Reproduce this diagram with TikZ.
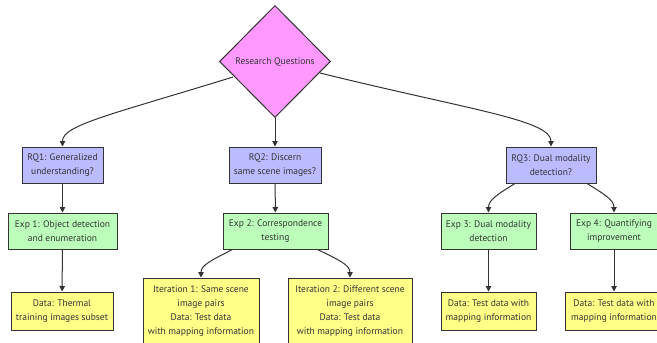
\documentclass[tikz,border=0pt]{standalone}
\usepackage{fontspec}
\setmainfont{PT Sans}
\usetikzlibrary{shapes.geometric,arrows.meta}
\definecolor{txt}{HTML}{333333}
\definecolor{rqfill}{HTML}{BBBBFF}
\definecolor{expfill}{HTML}{BBFFBB}
\definecolor{datafill}{HTML}{FFFF88}
\definecolor{qfill}{HTML}{FF99FF}
\tikzset{
  base/.style={draw=txt, line width=1pt, text=txt, inner sep=0pt, align=center,
    font=\fontsize{9.5}{14}\selectfont},
  rq/.style={base, rectangle, fill=rqfill, minimum height=36pt},
  exp/.style={base, rectangle, fill=expfill, minimum height=36pt},
  dat/.style={base, rectangle, fill=datafill, minimum height=38pt},
  iter/.style={base, rectangle, fill=datafill, minimum height=67pt},
  link/.style={draw=txt, line width=1pt, -{Triangle[length=5.5pt,width=5.5pt]}}
}
\begin{document}
\begin{tikzpicture}[x=1pt,y=-1pt]
\useasboundingbox (0,0) rectangle (657,343);
\node[base, diamond, fill=qfill, minimum width=111pt, minimum height=112pt] (q) at (275,61.5) {Research Questions};
\node[rq, minimum width=81pt] (rq1) at (62.5,165) {RQ1: Generalized\\understanding?};
\node[rq, minimum width=92pt] (rq2) at (275,165) {RQ2: Discern\\same scene images?};
\node[rq, minimum width=90pt] (rq3) at (551,165) {RQ3: Dual modality\\detection?};
\node[exp, minimum width=109pt] (e1) at (62.5,231) {Exp 1: Object detection\\and enumeration};
\node[exp, minimum width=105pt] (e2) at (275.5,231) {Exp 2: Correspondence\\testing};
\node[exp, minimum width=95pt] (e3) at (488.5,231) {Exp 3: Dual modality\\detection};
\node[exp, minimum width=88pt] (e4) at (614,231) {Exp 4: Quantifying\\improvement};
\node[dat, minimum width=102pt] (d1) at (62,311) {Data: Thermal\\training images subset};
\node[iter, minimum width=116pt] (i1) at (201,311.5) {Iteration 1: Same scene\\image pairs\\Data: Test data\\with mapping information};
\node[iter, minimum width=124pt] (i2) at (350,311.5) {Iteration 2: Different scene\\image pairs\\Data: Test data\\with mapping information};
\node[dat, minimum width=95pt] (d3) at (488.5,311) {Data: Test data with\\mapping information};
\node[dat, minimum width=97pt] (d4) at (614,311) {Data: Test data with\\mapping information};
% edges
\coordinate (qL) at (233,77);
\coordinate (qR) at (320,73);
\draw[link] (qL) .. controls (110,115) and (62.5,125) .. (rq1.north);
\draw[link] (q.south) -- (rq2.north);
\draw[link] (qR) .. controls (470,110) and (551,120) .. (rq3.north);
\draw[link] (rq1) -- (e1);
\draw[link] (rq2) -- (e2);
\draw[link] ([xshift=-36pt]rq3.south) .. controls (498,194) and (488.5,200) .. (e3.north);
\draw[link] ([xshift=36pt]rq3.south) .. controls (604,194) and (614,200) .. (e4.north);
\draw[link] (e1) -- (d1);
\draw[link] ([xshift=-43pt]e2.south) .. controls (212,260) and (201,265) .. (i1.north);
\draw[link] ([xshift=42pt]e2.south) .. controls (339,260) and (350,265) .. (i2.north);
\draw[link] (e3) -- (d3);
\draw[link] (e4) -- (d4);
\end{tikzpicture}
\end{document}
